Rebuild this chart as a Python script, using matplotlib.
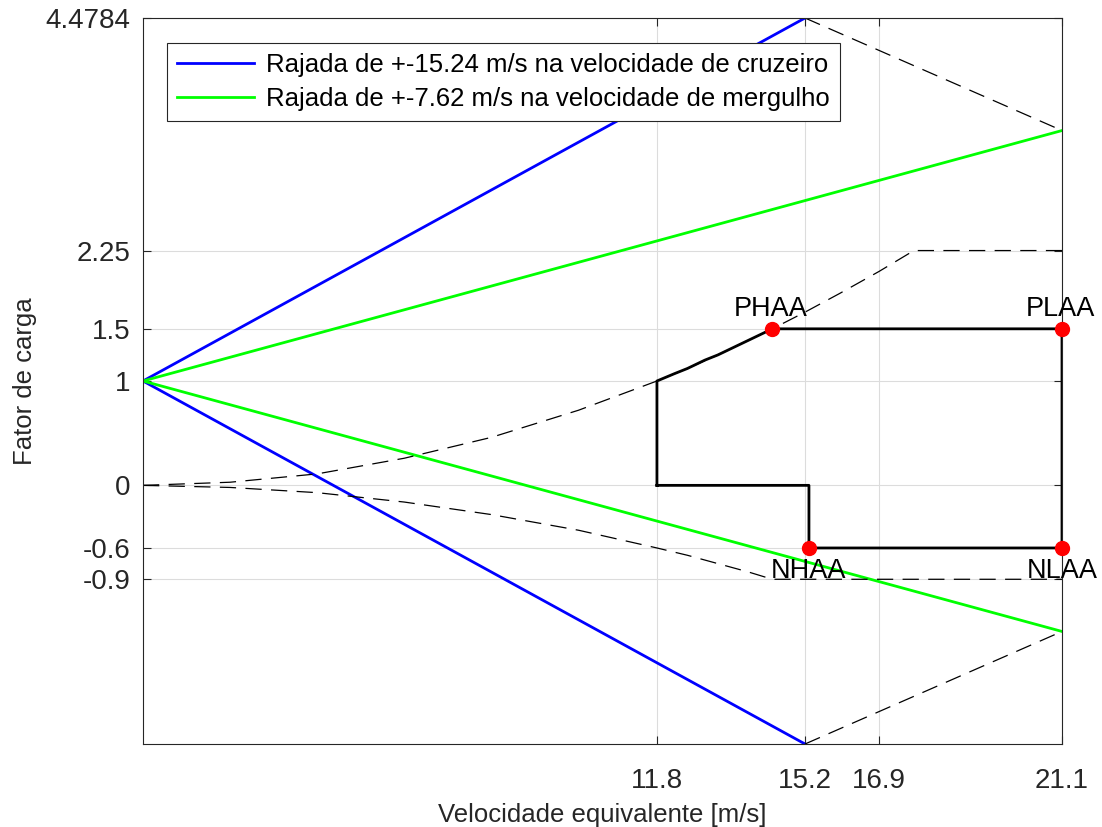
import matplotlib

matplotlib.use("Agg")
import matplotlib.pyplot as plt

plt.rcParams["font.family"] = ["Liberation Sans", "DejaVu Sans"]

# Gust lines (cruise and dive)
v_cruise = 15.2
v_dive = 21.1
gust_cruise_v = [0, v_cruise]
gust_cruise_up = [1, 4.4784]
gust_cruise_down = [1, -2.4784]
gust_dive_v = [0, v_dive]
gust_dive_up = [1, 3.4]
gust_dive_down = [1, -1.4]

# Stall curves (positive and negative) followed by the structural limits
stall_pos_v = [0, 2, 4, 6, 8, 10, 11.8, 12.5, 13.2, 13.9, 14.45, 15.2, 16, 16.9, 17.7, 21.1]
stall_pos_n = [0, 0.03, 0.11, 0.26, 0.46, 0.72, 1.0, 1.12, 1.25, 1.39, 1.5, 1.66, 1.84, 2.05, 2.25, 2.25]
stall_neg_v = [0, 2, 4, 6, 8, 10, 11.8, 12.5, 13.2, 13.9, 14.45, 21.1]
stall_neg_n = [0, -0.02, -0.07, -0.16, -0.28, -0.43, -0.6, -0.67, -0.75, -0.83, -0.9, -0.9]

# Flight envelope
env_v = [11.8, 11.8, 12.2, 12.5, 12.9, 13.2, 13.6, 13.9, 14.2, 14.45, 21.1, 21.1, 15.29, 15.29, 11.8]
env_n = [0, 1, 1.07, 1.12, 1.2, 1.25, 1.33, 1.39, 1.45, 1.5, 1.5, -0.6, -0.6, 0, 0]

# Corner points
corner_names = ["PHAA", "PLAA", "NLAA", "NHAA"]
corner_v = [14.45, 21.1, 21.1, 15.29]
corner_n = [1.5, 1.5, -0.6, -0.6]

x_ticks = [11.8, 15.2, 16.9, 21.1]
y_ticks = [-0.9, -0.6, 0, 1, 1.5, 2.25, 4.4784]
y_tick_labels = ["-0.9", "-0.6", "0", "1", "1.5", "2.25", "4.4784"]

fig = plt.figure(figsize=(11.02, 8.27), dpi=100)
ax = fig.add_axes([143 / 1102, 1 - 744 / 827, (1062 - 143) / 1102, (744 - 18) / 827])

ax.plot(gust_cruise_v, gust_cruise_up, color="#0000ff", lw=2,
        label="Rajada de +-15.24 m/s na velocidade de cruzeiro")
ax.plot(gust_dive_v, gust_dive_up, color="#00ff00", lw=2,
        label="Rajada de +-7.62 m/s na velocidade de mergulho")
ax.plot(gust_cruise_v, gust_cruise_down, color="#0000ff", lw=2)
ax.plot(gust_dive_v, gust_dive_down, color="#00ff00", lw=2)

dash = dict(color="black", lw=0.9, dashes=(13, 7.5))
ax.plot([v_cruise, v_dive], [gust_cruise_up[1], gust_dive_up[1]], **dash)
ax.plot([v_cruise, v_dive], [gust_cruise_down[1], gust_dive_down[1]], **dash)
ax.plot(stall_pos_v, stall_pos_n, **dash)
ax.plot(stall_neg_v, stall_neg_n, **dash)

ax.plot(env_v, env_n, color="black", lw=2, solid_joinstyle="round")
ax.plot(corner_v, corner_n, "o", color="#ff0000", ms=10, ls="none",
        zorder=5, clip_on=False)

for name, v, n in zip(corner_names, corner_v, corner_n):
    if n > 0:
        ax.annotate(name, (v, n), xytext=(-1, 5), textcoords="offset points",
                    ha="center", va="bottom", fontsize=19.5, annotation_clip=False)
    else:
        ax.annotate(name, (v, n), xytext=(0, -7), textcoords="offset points",
                    ha="center", va="top", fontsize=19.5, annotation_clip=False)

ax.set_xlim(0, 21.1)
ax.set_ylim(-2.4784, 4.4784)
ax.set_xticks(x_ticks)
ax.set_xticklabels([f"{v:g}" for v in x_ticks])
ax.set_yticks(y_ticks)
ax.set_yticklabels(y_tick_labels)

ax.grid(True, color="#dcdcdc", lw=0.8)
ax.set_axisbelow(True)
ax.tick_params(direction="in", length=6, width=0.8, top=True, right=True,
               labelsize=20, colors="#262626")
ax.tick_params(axis="x", pad=17)
ax.tick_params(axis="y", pad=9)
for spine in ax.spines.values():
    spine.set_color("#262626")
    spine.set_linewidth(0.8)

ax.set_xlabel("Velocidade equivalente [m/s]", fontsize=18.5, color="#262626", labelpad=7)
ax.set_ylabel("Fator de carga", fontsize=18.5, color="#262626", labelpad=6)

leg = ax.legend(loc="upper left", bbox_to_anchor=(24 / 919, 1 - 25 / 726),
                borderaxespad=0, fontsize=18.5,
                fancybox=False, framealpha=1, edgecolor="#262626",
                handlelength=3.0, borderpad=0.4, labelspacing=0.36, handletextpad=0.45)
leg.get_frame().set_linewidth(0.8)

fig.savefig("out.png", dpi=100)
